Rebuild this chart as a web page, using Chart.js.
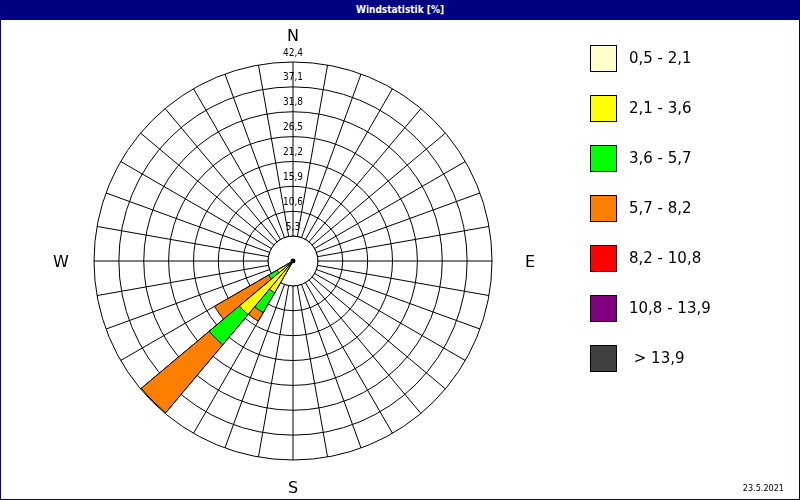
<!DOCTYPE html>
<html>
<head>
<meta charset="utf-8">
<script src="https://cdn.jsdelivr.net/npm/chart.js@4.4.1/dist/chart.umd.min.js"></script>
<style>
  html, body { margin: 0; padding: 0; }
  body { width: 800px; height: 500px; position: relative; overflow: hidden; background: #fff; font-family: "DejaVu Sans", sans-serif; }
  #frame { position: absolute; left: 0; top: 0; width: 800px; height: 500px; box-sizing: border-box; border: 1px solid #000080; }
  #title { position: absolute; left: 0; top: 0; width: 800px; height: 20px; background: #000080; color: #fff;
           font: bold 10px "DejaVu Sans Condensed", sans-serif; line-height: 20px; text-align: center; }
  #myChart { position: absolute; left: 0; top: 0; }
  #legend { position: absolute; left: 590px; top: 45px; }
  .item { display: flex; align-items: center; height: 26px; margin-bottom: 24px; }
  .box { width: 27px; height: 27px; box-sizing: border-box; border: 1px solid #000; }
  .txt { margin-left: 12px; font-size: 15px; color: #000; white-space: pre; }
  #date { position: absolute; right: 16px; top: 483px; font: 9px "DejaVu Sans Condensed", sans-serif; color: #000; }
</style>
</head>
<body>
<div id="frame"></div>
<div id="title">Windstatistik [%]</div>
<canvas id="myChart" width="800" height="500"></canvas>
<div id="legend"></div>
<div id="date">23.5.2021</div>
<script>
// 36 direction sectors, 10 degrees each
const sectors = ["0", "10", "20", "30", "40", "50", "60", "70", "80", "90", "100", "110",
  "120", "130", "140", "150", "160", "170", "180", "190", "200", "210", "220", "230",
  "240", "250", "260", "270", "280", "290", "300", "310", "320", "330", "340", "350"];
const cardinals = ["N", "E", "S", "W"];
const cardinalSectors = ["0", "90", "180", "270"];

const speedClasses = ["0,5 - 2,1", "2,1 - 3,6", "3,6 - 5,7", "5,7 - 8,2", "8,2 - 10,8", "10,8 - 13,9", " > 13,9"];
const classColors = ["#ffffcc", "#ffff00", "#00ff00", "#ff8000", "#ff0000", "#800080", "#404040"];

// share per sector [%] for each speed class
const v05_21 = [0.4, 0.4, 0.4, 0.4, 0.4, 0.4, 0.4, 0.4, 0.4, 0.4, 0.4, 0.4,
  0.4, 0.4, 0.4, 0.4, 0.4, 0.4, 0.4, 0.4, 0.4, 0.4, 0.4, 0.4,
  0.4, 0.4, 0.4, 0.4, 0.4, 0.4, 0.4, 0.4, 0.4, 0.4, 0.4, 0.4];
const v21_36 = [0, 0, 0, 0, 0, 0, 0, 0, 0, 0, 0, 0,
  0, 0, 0, 0, 0, 0, 0, 0, 0, 7.4, 14.5, 3.5,
  0, 0, 0, 0, 0, 0, 0, 0, 0, 0, 0, 0];
const v36_57 = [0, 0, 0, 0, 0, 0, 0, 0, 0, 0, 0, 0,
  0, 0, 0, 0, 0, 0, 0, 0, 0, 4.9, 8.4, 2.1,
  0, 0, 0, 0, 0, 0, 0, 0, 0, 0, 0, 0];
const v57_82 = [0, 0, 0, 0, 0, 0, 0, 0, 0, 0, 0, 0,
  0, 0, 0, 0, 0, 0, 0, 0, 0, 2.1, 18.9, 13.3,
  0, 0, 0, 0, 0, 0, 0, 0, 0, 0, 0, 0];
const v82_108 = [0, 0, 0, 0, 0, 0, 0, 0, 0, 0, 0, 0,
  0, 0, 0, 0, 0, 0, 0, 0, 0, 0, 0, 0,
  0, 0, 0, 0, 0, 0, 0, 0, 0, 0, 0, 0];
const v108_139 = [0, 0, 0, 0, 0, 0, 0, 0, 0, 0, 0, 0,
  0, 0, 0, 0, 0, 0, 0, 0, 0, 0, 0, 0,
  0, 0, 0, 0, 0, 0, 0, 0, 0, 0, 0, 0];
const vOver139 = [0, 0, 0, 0, 0, 0, 0, 0, 0, 0, 0, 0,
  0, 0, 0, 0, 0, 0, 0, 0, 0, 0, 0, 0,
  0, 0, 0, 0, 0, 0, 0, 0, 0, 0, 0, 0];

const rMax = 42.4;
const rStep = 5.3;

const perClass = [v05_21, v21_36, v36_57, v57_82, v82_108, v108_139, vOver139];

// stacked rose: each dataset holds the running total, smaller ones are drawn on top
let running = sectors.map(() => 0);
const datasets = perClass.map((vals, k) => {
  running = running.map((s, i) => s + vals[i]);
  return {
    label: speedClasses[k],
    data: running.slice(),
    angle: 10,
    backgroundColor: (c) => (vals[c.dataIndex] > 0 ? classColors[k] : "rgba(0,0,0,0)"),
    borderColor: "#000",
    borderWidth: (c) => (vals[c.dataIndex] > 0 ? 1 : 0),
  };
});

// legend
const legendEl = document.getElementById("legend");
speedClasses.forEach((lab, k) => {
  const row = document.createElement("div");
  row.className = "item";
  const box = document.createElement("div");
  box.className = "box";
  box.style.background = classColors[k];
  const txt = document.createElement("span");
  txt.className = "txt";
  txt.textContent = lab;
  row.appendChild(box);
  row.appendChild(txt);
  legendEl.appendChild(row);
});

// distance of N, E, S, W from the outer ring
const letterGap = [27, 38, 27, 33];

const roseDecor = {
  id: "roseDecor",
  beforeDatasetsDraw(chart) {
    // empty calm circle inside the first ring
    const s = chart.scales.r;
    const ctx = chart.ctx;
    const hole = s.getDistanceFromCenterForValue(rStep);
    ctx.save();
    ctx.beginPath();
    ctx.arc(s.xCenter, s.yCenter, hole, 0, Math.PI * 2);
    ctx.fillStyle = "#fff";
    ctx.fill();
    ctx.strokeStyle = "#000";
    ctx.lineWidth = 1;
    ctx.stroke();
    ctx.restore();
  },
  afterDraw(chart) {
    const s = chart.scales.r;
    const ctx = chart.ctx;
    ctx.save();
    ctx.fillStyle = "#000";
    ctx.textAlign = "center";
    ctx.textBaseline = "middle";
    // ring values above each ring on the north axis
    ctx.font = '10px "DejaVu Sans Condensed", sans-serif';
    s.ticks.forEach((t) => {
      if (t.value <= 0) return;
      const p = s.getPointPosition(0, s.getDistanceFromCenterForValue(t.value));
      ctx.fillText(t.label, p.x, p.y - 9);
    });
    // compass letters
    ctx.font = '16px "DejaVu Sans", sans-serif';
    cardinals.forEach((c, k) => {
      const idx = sectors.indexOf(cardinalSectors[k]);
      const p = s.getPointPosition(idx, s.drawingArea + letterGap[k]);
      ctx.fillText(c, p.x, p.y + 2);
    });
    ctx.restore();
  },
};

const ctx = document.getElementById("myChart");
const myChart = new Chart(ctx, {
  type: "polarArea",
  data: { labels: sectors, datasets: datasets },
  options: {
    responsive: false,
    animation: false,
    layout: { padding: { left: 94, top: 62, right: 308, bottom: 40 } },
    plugins: { legend: { display: false }, tooltip: { enabled: false } },
    scales: {
      r: {
        min: 0,
        max: rMax,
        startAngle: 0,
        grid: { circular: true, color: "#000", lineWidth: 1 },
        angleLines: { display: true, color: "#000", lineWidth: 1 },
        pointLabels: { display: false },
        ticks: {
          display: false,
          stepSize: rStep,
          callback: (v) => v.toFixed(1).replace(".", ","),
        },
      },
    },
  },
  plugins: [roseDecor],
});
</script>
</body>
</html>
